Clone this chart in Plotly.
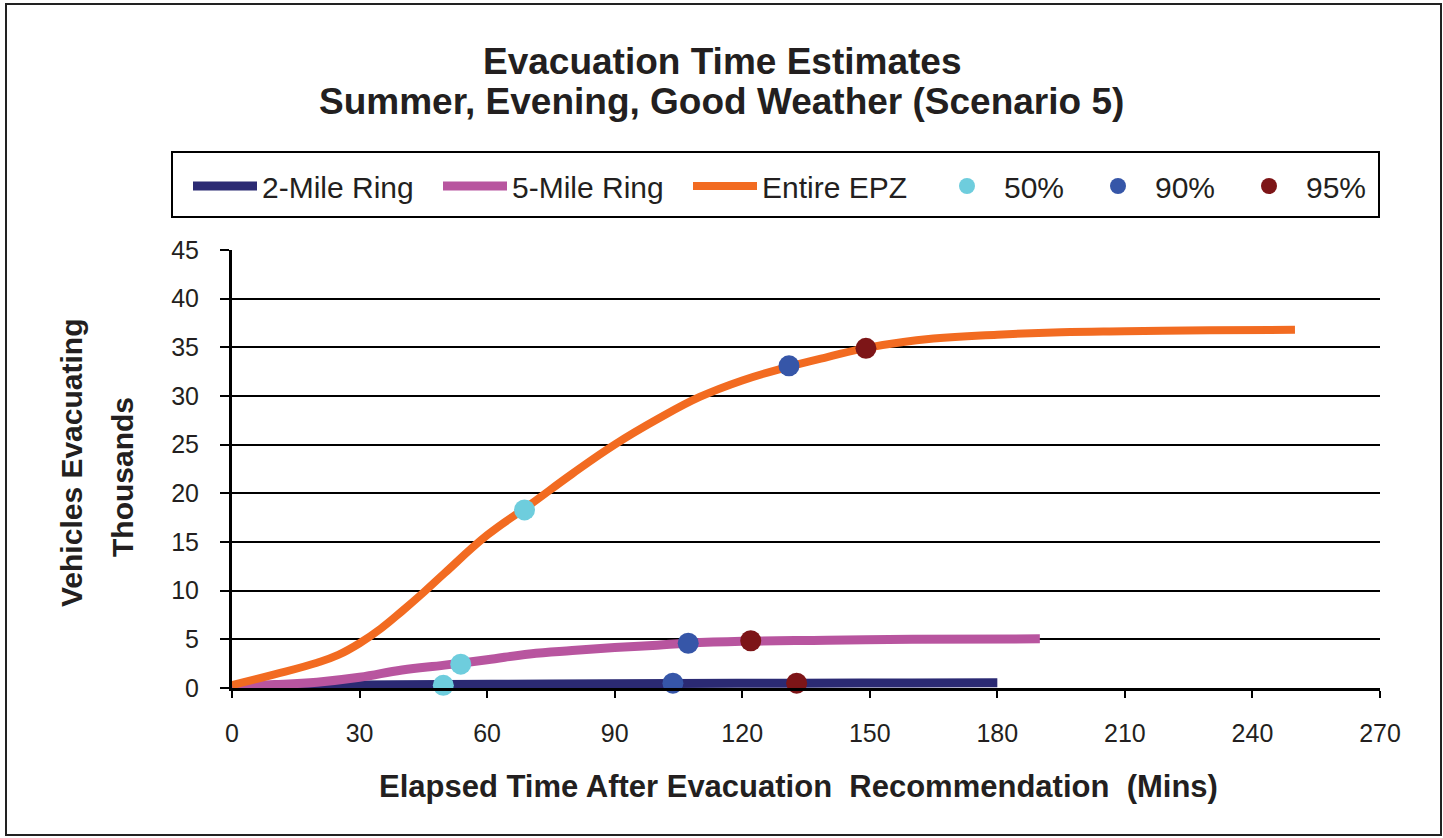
import plotly.graph_objects as go

# ---- data (minutes after recommendation, thousands of vehicles) ----
t_2mile = [0, 15, 30, 50, 75, 104, 133, 160, 180]
v_2mile = [0.05, 0.2, 0.3, 0.35, 0.42, 0.47, 0.5, 0.52, 0.53]

t_5mile = [0, 10, 20, 30, 40, 50, 60, 70, 80, 90, 100, 107, 120, 140, 160, 190]
v_5mile = [0.2, 0.35, 0.6, 1.1, 1.85, 2.35, 2.9, 3.5, 3.85, 4.15, 4.4, 4.6, 4.8, 4.9, 5.0, 5.05]

t_epz = [0, 10, 20, 25, 30, 35, 40, 45, 50, 60, 70, 80, 90, 100, 110, 120, 130,
         140, 150, 165, 180, 195, 210, 230, 250]
v_epz = [0.3, 1.4, 2.6, 3.4, 4.6, 6.1, 7.9, 9.8, 11.8, 15.7, 18.8, 22.0, 25.0,
         27.6, 29.9, 31.6, 32.9, 34.0, 35.0, 35.9, 36.3, 36.55, 36.65, 36.75, 36.8]

# percentile markers: [2-Mile, 5-Mile, Entire EPZ]
t_50 = [49.7, 53.8, 68.8]
v_50 = [0.27, 2.45, 18.3]
t_90 = [103.7, 107.3, 131.0]
v_90 = [0.5, 4.6, 33.1]
t_95 = [132.8, 122.0, 149.1]
v_95 = [0.5, 4.85, 34.9]

x_ticks = [0, 30, 60, 90, 120, 150, 180, 210, 240, 270]
y_ticks = [0, 5, 10, 15, 20, 25, 30, 35, 40, 45]

W, H = 1443, 838
L, R, T, B = 232, 1380, 250, 688   # plot area in pixels

def px(x):
    return (x - L) / (R - L)

def py(y):
    return (B - y) / (B - T)

FONT = "Arial, Liberation Sans, sans-serif"
TXT = "#231f20"

fig = go.Figure()

line_specs = [
    ("2-Mile Ring", t_2mile, v_2mile, "#2b2a73", 9, 171),
    ("5-Mile Ring", t_5mile, v_5mile, "#b8559f", 9, 171),
    ("Entire EPZ", t_epz, v_epz, "#f26b21", 8, 163),
]
for name, xs, ys, col, w, lw in line_specs:
    fig.add_trace(go.Scatter(
        x=xs, y=ys, name=name, mode="lines",
        line=dict(color=col, width=w, shape="spline", smoothing=1.2),
        cliponaxis=False, legendwidth=lw,
    ))

marker_specs = [
    ("50%", t_50, v_50, "#6ecddd", 72),
    ("90%", t_90, v_90, "#3656a8", 72),
    ("95%", t_95, v_95, "#7d1517", 72),
]
for name, xs, ys, col, lw in marker_specs:
    fig.add_trace(go.Scatter(
        x=xs, y=ys, name=name, mode="markers",
        marker=dict(color=col, size=21, line=dict(width=0)),
        cliponaxis=False, legendwidth=lw,
    ))

annotations = [
    dict(text="<b>Evacuation Time Estimates</b>", x=px(W / 2), y=py(62),
         xref="paper", yref="paper", showarrow=False, xanchor="center", yanchor="middle",
         font=dict(size=37, color=TXT, family=FONT)),
    dict(text="<b>Summer, Evening, Good Weather (Scenario 5)</b>", x=px(W / 2), y=py(102),
         xref="paper", yref="paper", showarrow=False, xanchor="center", yanchor="middle",
         font=dict(size=37, color=TXT, family=FONT)),
    dict(text="<b>Elapsed Time After Evacuation  Recommendation  (Mins)</b>",
         x=px(798), y=py(786), xref="paper", yref="paper", showarrow=False,
         xanchor="center", yanchor="middle", font=dict(size=31, color=TXT, family=FONT)),
    dict(text="<b>Vehicles Evacuating</b>", x=px(71), y=py(463), textangle=-90,
         xref="paper", yref="paper", showarrow=False, xanchor="center", yanchor="middle",
         font=dict(size=30, color=TXT, family=FONT)),
    dict(text="<b>Thousands</b>", x=px(122), y=py(477), textangle=-90,
         xref="paper", yref="paper", showarrow=False, xanchor="center", yanchor="middle",
         font=dict(size=30, color=TXT, family=FONT)),
]

shapes = [
    # outer frame
    dict(type="rect", xref="paper", yref="paper", x0=px(6), x1=px(1441), y0=py(4), y1=py(835),
         line=dict(color="#222", width=2), layer="below"),
    # legend frame
    dict(type="rect", xref="paper", yref="paper", x0=px(172), x1=px(1379), y0=py(152), y1=py(217),
         line=dict(color="#000", width=2), layer="below"),
]

fig.update_layout(
    width=W, height=H, autosize=False,
    margin=dict(l=L, r=W - R, t=T, b=H - B, pad=0),
    paper_bgcolor="white", plot_bgcolor="white",
    font=dict(family=FONT, color=TXT),
    showlegend=True,
    legend=dict(
        orientation="h", xref="paper", yref="paper",
        x=px(188), y=py(160), xanchor="left", yanchor="top",
        font=dict(size=30, color=TXT, family=FONT),
        bgcolor="rgba(0,0,0,0)", borderwidth=0, itemwidth=64,
        traceorder="normal",
    ),
    annotations=annotations,
    shapes=shapes,
    xaxis=dict(
        range=[0, 270], tickvals=x_ticks, ticktext=[str(v) for v in x_ticks],
        showgrid=False, zeroline=False,
        showline=True, linecolor="#000", linewidth=3,
        ticks="outside", ticklen=7, tickwidth=2, tickcolor="#000",
        tickfont=dict(size=25, color=TXT, family=FONT), ticklabelstandoff=14,
        fixedrange=True,
    ),
    yaxis=dict(
        range=[0, 45], tickvals=y_ticks, ticktext=[str(v) for v in y_ticks],
        showgrid=True, gridcolor="#000", gridwidth=2, zeroline=False,
        showline=True, linecolor="#000", linewidth=3,
        ticks="outside", ticklen=9, tickwidth=2, tickcolor="#000",
        tickfont=dict(size=25, color=TXT, family=FONT), ticklabelstandoff=16,
        fixedrange=True,
    ),
)

fig.write_html("out.html", config=dict(displayModeBar=False))
